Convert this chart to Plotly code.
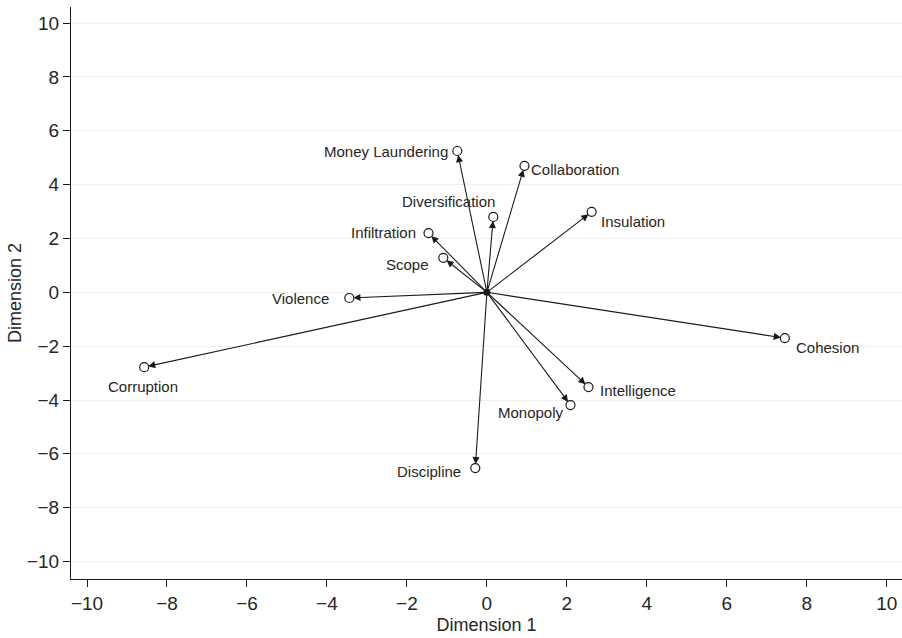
import plotly.graph_objects as go

# Biplot-style vector coordinates for each dimension
variables = ["Money Laundering", "Collaboration", "Diversification", "Insulation",
             "Infiltration", "Scope", "Violence", "Corruption", "Cohesion",
             "Intelligence", "Monopoly", "Discipline"]
dim1 = [-0.74, 0.94, 0.16, 2.62, -1.46, -1.09, -3.44, -8.57, 7.45, 2.54, 2.09, -0.29]
dim2 = [5.25, 4.70, 2.80, 2.99, 2.20, 1.28, -0.21, -2.78, -1.70, -3.52, -4.19, -6.53]
origin = (0.0, 0.0)
tick_vals = list(range(-10, 11, 2))

# label placement: (xanchor, yanchor, xshift px, yshift px)
label_place = [
    ("right", "middle", -7, 0),
    ("left", "middle", 5, -4),
    ("right", "middle", 4, 15),
    ("left", "middle", 7, -10),
    ("right", "middle", -11, 1),
    ("right", "middle", -12, -7),
    ("right", "middle", -18, -1),
    ("center", "middle", -1, -19),
    ("left", "middle", 9, -9),
    ("left", "middle", 10, -3),
    ("right", "middle", -4, -7),
    ("right", "middle", -12, -3),
]

FONT = "Liberation Sans, Arial, sans-serif"
INK = "#1a1a1a"
TEXT = "#262626"

fig = go.Figure()

# arrows from the origin to each variable
for x, y in zip(dim1, dim2):
    fig.add_annotation(
        x=x, y=y, ax=origin[0], ay=origin[1],
        xref="x", yref="y", axref="x", ayref="y",
        text="", showarrow=True, arrowhead=2, arrowsize=1.3,
        arrowwidth=1.1, arrowcolor=INK, standoff=4,
    )

# variable labels
for name, x, y, (xa, ya, dx, dy) in zip(variables, dim1, dim2, label_place):
    fig.add_annotation(
        x=x, y=y, xref="x", yref="y", text=name, showarrow=False,
        xanchor=xa, yanchor=ya, xshift=dx, yshift=dy,
        font=dict(family=FONT, size=15, color=TEXT),
    )

# variable end points
fig.add_trace(go.Scatter(
    x=dim1, y=dim2, mode="markers", text=variables,
    marker=dict(symbol="circle-open", size=9, color=INK, line=dict(width=1.2)),
    hoverinfo="text", showlegend=False, cliponaxis=False,
))

# origin
fig.add_trace(go.Scatter(
    x=[origin[0]], y=[origin[1]], mode="markers",
    marker=dict(symbol="circle", size=7, color=INK),
    hoverinfo="skip", showlegend=False,
))

fig.update_layout(
    width=902, height=638,
    margin=dict(l=71, r=0, t=7, b=59),
    paper_bgcolor="white", plot_bgcolor="white",
    font=dict(family=FONT, color=TEXT),
)
fig.update_xaxes(
    range=[-10.4, 10.38], tickvals=tick_vals, showgrid=False, zeroline=False,
    showline=True, linecolor=INK, linewidth=1.2, ticks="outside", ticklen=7,
    tickcolor=INK, tickfont=dict(size=19),
    title=dict(text="Dimension 1", font=dict(size=18), standoff=5),
)
fig.update_yaxes(
    range=[-10.65, 10.6], tickvals=tick_vals, showgrid=True,
    gridcolor="#f0f0f0", gridwidth=1, zeroline=False,
    showline=True, linecolor=INK, linewidth=1.2, ticks="outside", ticklen=7,
    tickcolor=INK, tickfont=dict(size=19),
    title=dict(text="Dimension 2", font=dict(size=18), standoff=0),
)

fig.write_html("out.html")
